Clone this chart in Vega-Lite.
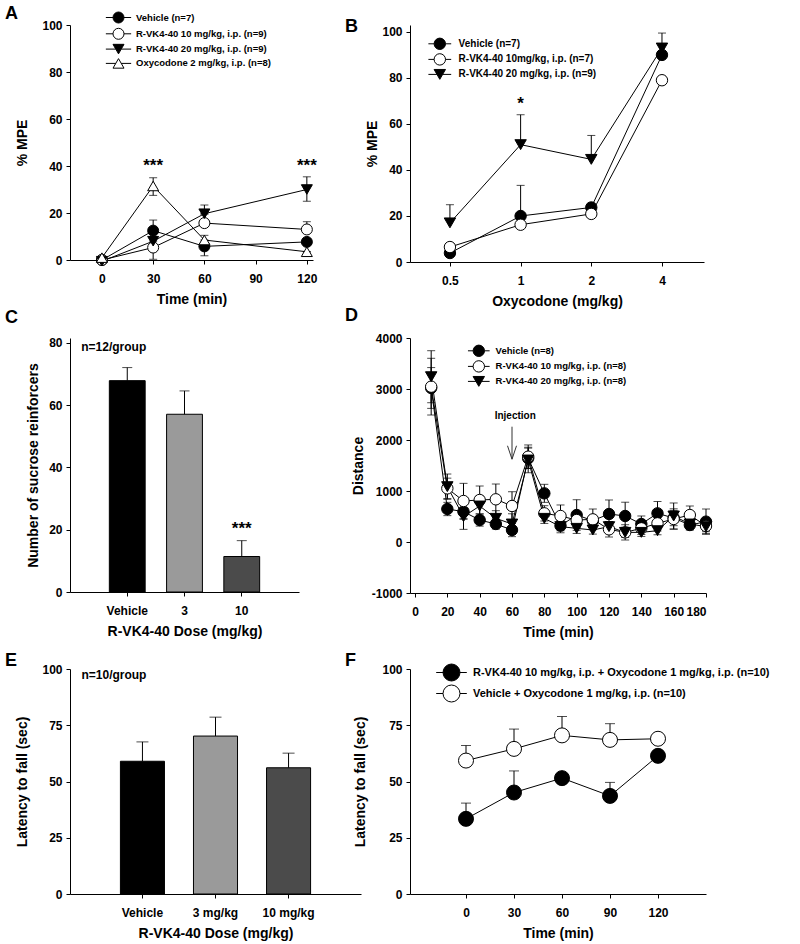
{
  "$schema": "https://vega.github.io/schema/vega-lite/v6.json",
  "padding": {"left": 5, "top": 4, "right": 5, "bottom": 2},
  "columns": 2,
  "align": "each",
  "bounds": "flush",
  "spacing": {"row": 76, "column": 49},
  "datasets": {
    "A": [
      {"t": 0, "y": 0, "lo": 0, "hi": 0, "s": "Vehicle (n=7)"},
      {"t": 30, "y": 12.5, "lo": 12.5, "hi": 17, "s": "Vehicle (n=7)"},
      {"t": 60, "y": 5.8, "lo": 1.8, "hi": 5.8, "s": "Vehicle (n=7)"},
      {"t": 120, "y": 7.7, "lo": 7.7, "hi": 8.5, "s": "Vehicle (n=7)"},
      {"t": 0, "y": 0, "lo": 0, "hi": 0, "s": "R-VK4-40 10 mg/kg, i.p. (n=9)"},
      {"t": 30, "y": 5.3, "lo": 0.3, "hi": 5.3, "s": "R-VK4-40 10 mg/kg, i.p. (n=9)"},
      {"t": 60, "y": 15.7, "lo": 15.7, "hi": 19.5, "s": "R-VK4-40 10 mg/kg, i.p. (n=9)"},
      {"t": 120, "y": 13, "lo": 13, "hi": 16.3, "s": "R-VK4-40 10 mg/kg, i.p. (n=9)"},
      {"t": 0, "y": -0.5, "lo": -0.5, "hi": -0.5, "s": "R-VK4-40 20 mg/kg, i.p. (n=9)"},
      {"t": 30, "y": 8, "lo": 8, "hi": 10, "s": "R-VK4-40 20 mg/kg, i.p. (n=9)"},
      {"t": 60, "y": 19.7, "lo": 19.7, "hi": 23.4, "s": "R-VK4-40 20 mg/kg, i.p. (n=9)"},
      {"t": 120, "y": 30, "lo": 25, "hi": 35.4, "s": "R-VK4-40 20 mg/kg, i.p. (n=9)"},
      {"t": 0, "y": 1, "lo": 1, "hi": 1, "s": "Oxycodone 2 mg/kg, i.p. (n=8)"},
      {"t": 30, "y": 31.5, "lo": 27.5, "hi": 35, "s": "Oxycodone 2 mg/kg, i.p. (n=8)"},
      {"t": 60, "y": 8.5, "lo": 8.5, "hi": 10.5, "s": "Oxycodone 2 mg/kg, i.p. (n=8)"},
      {"t": 120, "y": 3.5, "lo": 3.5, "hi": 3.5, "s": "Oxycodone 2 mg/kg, i.p. (n=8)"}
    ],
    "B": [
      {"d": 0.5, "y": 3.9, "lo": 3.9, "hi": 3.9, "s": "Vehicle (n=7)"},
      {"d": 1, "y": 20, "lo": 20, "hi": 33.3, "s": "Vehicle (n=7)"},
      {"d": 2, "y": 23.7, "lo": 23.7, "hi": 25.5, "s": "Vehicle (n=7)"},
      {"d": 4, "y": 90, "lo": 90, "hi": 90, "s": "Vehicle (n=7)"},
      {"d": 0.5, "y": 6.5, "lo": 6.5, "hi": 6.5, "s": "R-VK4-40 10mg/kg, i.p. (n=7)"},
      {"d": 1, "y": 16.2, "lo": 16.2, "hi": 16.2, "s": "R-VK4-40 10mg/kg, i.p. (n=7)"},
      {"d": 2, "y": 20.9, "lo": 20.9, "hi": 20.9, "s": "R-VK4-40 10mg/kg, i.p. (n=7)"},
      {"d": 4, "y": 79, "lo": 79, "hi": 79, "s": "R-VK4-40 10mg/kg, i.p. (n=7)"},
      {"d": 0.5, "y": 17, "lo": 17, "hi": 24.9, "s": "R-VK4-40 20 mg/kg, i.p. (n=9)"},
      {"d": 1, "y": 51, "lo": 51, "hi": 64, "s": "R-VK4-40 20 mg/kg, i.p. (n=9)"},
      {"d": 2, "y": 44.6, "lo": 44.6, "hi": 55, "s": "R-VK4-40 20 mg/kg, i.p. (n=9)"},
      {"d": 4, "y": 93, "lo": 93, "hi": 99.5, "s": "R-VK4-40 20 mg/kg, i.p. (n=9)"}
    ],
    "C": [
      {"dose": "Vehicle", "v": 67.9, "hi": 72.1},
      {"dose": "3", "v": 57.1, "hi": 64.6},
      {"dose": "10", "v": 11.4, "hi": 16.5}
    ],
    "D": [
      {"t": 10, "y": 3020, "lo": 2620, "hi": 3420, "s": "Vehicle (n=8)"},
      {"t": 20, "y": 647, "lo": 517, "hi": 777, "s": "Vehicle (n=8)"},
      {"t": 30, "y": 595, "lo": 445, "hi": 745, "s": "Vehicle (n=8)"},
      {"t": 40, "y": 431, "lo": 311, "hi": 551, "s": "Vehicle (n=8)"},
      {"t": 50, "y": 353, "lo": 253, "hi": 453, "s": "Vehicle (n=8)"},
      {"t": 60, "y": 235, "lo": 105, "hi": 365, "s": "Vehicle (n=8)"},
      {"t": 70, "y": 1641, "lo": 1441, "hi": 1841, "s": "Vehicle (n=8)"},
      {"t": 80, "y": 954, "lo": 777, "hi": 1131, "s": "Vehicle (n=8)"},
      {"t": 90, "y": 320, "lo": 220, "hi": 420, "s": "Vehicle (n=8)"},
      {"t": 100, "y": 529, "lo": 229, "hi": 829, "s": "Vehicle (n=8)"},
      {"t": 110, "y": 420, "lo": 320, "hi": 520, "s": "Vehicle (n=8)"},
      {"t": 120, "y": 549, "lo": 274, "hi": 824, "s": "Vehicle (n=8)"},
      {"t": 130, "y": 510, "lo": 240, "hi": 780, "s": "Vehicle (n=8)"},
      {"t": 140, "y": 353, "lo": 196, "hi": 510, "s": "Vehicle (n=8)"},
      {"t": 150, "y": 562, "lo": 330, "hi": 794, "s": "Vehicle (n=8)"},
      {"t": 160, "y": 470, "lo": 320, "hi": 620, "s": "Vehicle (n=8)"},
      {"t": 170, "y": 333, "lo": 233, "hi": 433, "s": "Vehicle (n=8)"},
      {"t": 180, "y": 399, "lo": 151, "hi": 647, "s": "Vehicle (n=8)"},
      {"t": 10, "y": 3046, "lo": 2490, "hi": 3602, "s": "R-VK4-40 10 mg/kg, i.p. (n=8)"},
      {"t": 20, "y": 1052, "lo": 852, "hi": 1252, "s": "R-VK4-40 10 mg/kg, i.p. (n=8)"},
      {"t": 30, "y": 804, "lo": 458, "hi": 1150, "s": "R-VK4-40 10 mg/kg, i.p. (n=8)"},
      {"t": 40, "y": 824, "lo": 550, "hi": 1098, "s": "R-VK4-40 10 mg/kg, i.p. (n=8)"},
      {"t": 50, "y": 837, "lo": 537, "hi": 1137, "s": "R-VK4-40 10 mg/kg, i.p. (n=8)"},
      {"t": 60, "y": 706, "lo": 426, "hi": 986, "s": "R-VK4-40 10 mg/kg, i.p. (n=8)"},
      {"t": 70, "y": 1673, "lo": 1443, "hi": 1903, "s": "R-VK4-40 10 mg/kg, i.p. (n=8)"},
      {"t": 80, "y": 562, "lo": 412, "hi": 712, "s": "R-VK4-40 10 mg/kg, i.p. (n=8)"},
      {"t": 90, "y": 510, "lo": 294, "hi": 726, "s": "R-VK4-40 10 mg/kg, i.p. (n=8)"},
      {"t": 100, "y": 431, "lo": 281, "hi": 581, "s": "R-VK4-40 10 mg/kg, i.p. (n=8)"},
      {"t": 110, "y": 444, "lo": 241, "hi": 647, "s": "R-VK4-40 10 mg/kg, i.p. (n=8)"},
      {"t": 120, "y": 248, "lo": 98, "hi": 398, "s": "R-VK4-40 10 mg/kg, i.p. (n=8)"},
      {"t": 130, "y": 189, "lo": 39, "hi": 339, "s": "R-VK4-40 10 mg/kg, i.p. (n=8)"},
      {"t": 140, "y": 268, "lo": 148, "hi": 388, "s": "R-VK4-40 10 mg/kg, i.p. (n=8)"},
      {"t": 150, "y": 366, "lo": 216, "hi": 516, "s": "R-VK4-40 10 mg/kg, i.p. (n=8)"},
      {"t": 160, "y": 451, "lo": 251, "hi": 651, "s": "R-VK4-40 10 mg/kg, i.p. (n=8)"},
      {"t": 170, "y": 529, "lo": 352, "hi": 706, "s": "R-VK4-40 10 mg/kg, i.p. (n=8)"},
      {"t": 180, "y": 314, "lo": 164, "hi": 464, "s": "R-VK4-40 10 mg/kg, i.p. (n=8)"},
      {"t": 10, "y": 3241, "lo": 2731, "hi": 3751, "s": "R-VK4-40 20 mg/kg, i.p. (n=8)"},
      {"t": 20, "y": 1085, "lo": 837, "hi": 1333, "s": "R-VK4-40 20 mg/kg, i.p. (n=8)"},
      {"t": 30, "y": 497, "lo": 248, "hi": 746, "s": "R-VK4-40 20 mg/kg, i.p. (n=8)"},
      {"t": 40, "y": 706, "lo": 506, "hi": 906, "s": "R-VK4-40 20 mg/kg, i.p. (n=8)"},
      {"t": 50, "y": 464, "lo": 314, "hi": 614, "s": "R-VK4-40 20 mg/kg, i.p. (n=8)"},
      {"t": 60, "y": 353, "lo": 153, "hi": 553, "s": "R-VK4-40 20 mg/kg, i.p. (n=8)"},
      {"t": 70, "y": 1608, "lo": 1358, "hi": 1858, "s": "R-VK4-40 20 mg/kg, i.p. (n=8)"},
      {"t": 80, "y": 464, "lo": 364, "hi": 564, "s": "R-VK4-40 20 mg/kg, i.p. (n=8)"},
      {"t": 90, "y": 301, "lo": 181, "hi": 421, "s": "R-VK4-40 20 mg/kg, i.p. (n=8)"},
      {"t": 100, "y": 268, "lo": 168, "hi": 368, "s": "R-VK4-40 20 mg/kg, i.p. (n=8)"},
      {"t": 110, "y": 235, "lo": 155, "hi": 315, "s": "R-VK4-40 20 mg/kg, i.p. (n=8)"},
      {"t": 120, "y": 301, "lo": 201, "hi": 401, "s": "R-VK4-40 20 mg/kg, i.p. (n=8)"},
      {"t": 130, "y": 189, "lo": 89, "hi": 289, "s": "R-VK4-40 20 mg/kg, i.p. (n=8)"},
      {"t": 140, "y": 189, "lo": 109, "hi": 269, "s": "R-VK4-40 20 mg/kg, i.p. (n=8)"},
      {"t": 150, "y": 222, "lo": 142, "hi": 302, "s": "R-VK4-40 20 mg/kg, i.p. (n=8)"},
      {"t": 160, "y": 510, "lo": 255, "hi": 765, "s": "R-VK4-40 20 mg/kg, i.p. (n=8)"},
      {"t": 170, "y": 353, "lo": 253, "hi": 453, "s": "R-VK4-40 20 mg/kg, i.p. (n=8)"},
      {"t": 180, "y": 301, "lo": 201, "hi": 401, "s": "R-VK4-40 20 mg/kg, i.p. (n=8)"}
    ],
    "E": [
      {"dose": "Vehicle", "v": 59, "hi": 67.6},
      {"dose": "3 mg/kg", "v": 70.2, "hi": 78.6},
      {"dose": "10 mg/kg", "v": 56.1, "hi": 62.6}
    ],
    "F": [
      {"t": 0, "y": 33.4, "hi": 40.4, "s": "R-VK4-40 10 mg/kg, i.p. + Oxycodone 1 mg/kg, i.p. (n=10)"},
      {"t": 30, "y": 45.1, "hi": 54.7, "s": "R-VK4-40 10 mg/kg, i.p. + Oxycodone 1 mg/kg, i.p. (n=10)"},
      {"t": 60, "y": 51.5, "hi": 52, "s": "R-VK4-40 10 mg/kg, i.p. + Oxycodone 1 mg/kg, i.p. (n=10)"},
      {"t": 90, "y": 43.6, "hi": 49.6, "s": "R-VK4-40 10 mg/kg, i.p. + Oxycodone 1 mg/kg, i.p. (n=10)"},
      {"t": 120, "y": 61.4, "hi": 62, "s": "R-VK4-40 10 mg/kg, i.p. + Oxycodone 1 mg/kg, i.p. (n=10)"},
      {"t": 0, "y": 59.3, "hi": 66, "s": "Vehicle + Oxycodone 1 mg/kg, i.p. (n=10)"},
      {"t": 30, "y": 64.5, "hi": 73.3, "s": "Vehicle + Oxycodone 1 mg/kg, i.p. (n=10)"},
      {"t": 60, "y": 70.5, "hi": 78.9, "s": "Vehicle + Oxycodone 1 mg/kg, i.p. (n=10)"},
      {"t": 90, "y": 68.5, "hi": 75.7, "s": "Vehicle + Oxycodone 1 mg/kg, i.p. (n=10)"},
      {"t": 120, "y": 69, "hi": 69.5, "s": "Vehicle + Oxycodone 1 mg/kg, i.p. (n=10)"}
    ]
  },
  "concat": [
    {
      "width": 243, "height": 235,
      "title": {"text": "A", "dy": 13},
      "data": {"name": "A"},
      "encoding": {"x": {"field": "t", "type": "quantitative", "scale": {"domain": [-18.7, 123.6], "nice": false, "zero": false}, "axis": {"values": [0, 30, 60, 90, 120], "title": "Time (min)"}}},
      "resolve": {"scale": {"shape": "independent", "fill": "independent", "stroke": "independent"}},
      "layer": [
        {"mark": {"type": "line", "color": "black", "strokeWidth": 1},
         "encoding": {"y": {"field": "y", "type": "quantitative", "scale": {"domain": [0, 100], "nice": false, "zero": false}, "axis": {"values": [0, 20, 40, 60, 80, 100], "title": "% MPE", "titlePadding": 12}}, "detail": {"field": "s"}}},
        {"mark": {"type": "rule", "color": "black", "strokeWidth": 1},
         "encoding": {"y": {"field": "lo", "type": "quantitative", "scale": {"domain": [0, 100], "nice": false, "zero": false}, "axis": {"values": [0, 20, 40, 60, 80, 100], "title": "% MPE", "titlePadding": 12}}, "y2": {"field": "hi"}}},
        {"mark": {"type": "tick", "orient": "horizontal", "color": "black", "size": 8, "thickness": 1},
         "encoding": {"y": {"field": "hi", "type": "quantitative", "scale": {"domain": [0, 100], "nice": false, "zero": false}, "axis": {"values": [0, 20, 40, 60, 80, 100], "title": "% MPE", "titlePadding": 12}}}},
        {"mark": {"type": "tick", "orient": "horizontal", "color": "black", "size": 8, "thickness": 1},
         "encoding": {"y": {"field": "lo", "type": "quantitative", "scale": {"domain": [0, 100], "nice": false, "zero": false}, "axis": {"values": [0, 20, 40, 60, 80, 100], "title": "% MPE", "titlePadding": 12}}}},
        {"mark": {"type": "point", "filled": true, "stroke": "black", "strokeWidth": 1, "opacity": 1, "size": 121},
         "encoding": {
           "y": {"field": "y", "type": "quantitative", "scale": {"domain": [0, 100], "nice": false, "zero": false}, "axis": {"values": [0, 20, 40, 60, 80, 100], "title": "% MPE", "titlePadding": 12}},
           "shape": {"field": "s", "type": "nominal", "scale": {"domain": ["Vehicle (n=7)", "R-VK4-40 10 mg/kg, i.p. (n=9)", "R-VK4-40 20 mg/kg, i.p. (n=9)", "Oxycodone 2 mg/kg, i.p. (n=8)"], "range": ["circle", "circle", "triangle-down", "triangle-up"]}, "legend": null},
           "fill": {"field": "s", "type": "nominal", "scale": {"domain": ["Vehicle (n=7)", "R-VK4-40 10 mg/kg, i.p. (n=9)", "R-VK4-40 20 mg/kg, i.p. (n=9)", "Oxycodone 2 mg/kg, i.p. (n=8)"], "range": ["black", "white", "black", "white"]}, "legend": null}
         }},
        {"transform": [{"filter": "false"}],
         "mark": {"type": "point", "filled": true, "opacity": 1},
         "encoding": {
           "y": {"field": "y", "type": "quantitative", "scale": {"domain": [0, 100], "nice": false, "zero": false}, "axis": {"values": [0, 20, 40, 60, 80, 100], "title": "% MPE", "titlePadding": 12}},
           "shape": {"field": "s", "type": "nominal", "scale": {"domain": ["Vehicle (n=7)", "R-VK4-40 10 mg/kg, i.p. (n=9)", "R-VK4-40 20 mg/kg, i.p. (n=9)", "Oxycodone 2 mg/kg, i.p. (n=8)"], "range": ["M-2.3,0L-1,0M1,0L2.3,0M1,0L0.924,0.383L0.707,0.707L0.383,0.924L0,1L-0.383,0.924L-0.707,0.707L-0.924,0.383L-1,0L-0.924,-0.383L-0.707,-0.707L-0.383,-0.924L0,-1L0.383,-0.924L0.707,-0.707L0.924,-0.383Z", "M-2.3,0L-1,0M1,0L2.3,0M1,0L0.924,0.383L0.707,0.707L0.383,0.924L0,1L-0.383,0.924L-0.707,0.707L-0.924,0.383L-1,0L-0.924,-0.383L-0.707,-0.707L-0.383,-0.924L0,-1L0.383,-0.924L0.707,-0.707L0.924,-0.383Z", "M-2.3,0L-0.5,0M0.5,0L2.3,0M0,0.866L-1,-0.866L1,-0.866Z", "M-2.3,0L-0.5,0M0.5,0L2.3,0M0,-0.866L-1,0.866L1,0.866Z"]},
             "legend": {"title": null, "orient": "none", "direction": "vertical", "legendX": 42.5, "legendY": -13.5, "labelFontSize": 9.5, "symbolSize": 121, "rowPadding": 0.3, "labelOffset": 11.5, "symbolStrokeWidth": 1, "labelLimit": 400}},
           "fill": {"field": "s", "type": "nominal", "scale": {"domain": ["Vehicle (n=7)", "R-VK4-40 10 mg/kg, i.p. (n=9)", "R-VK4-40 20 mg/kg, i.p. (n=9)", "Oxycodone 2 mg/kg, i.p. (n=8)"], "range": ["black", "white", "black", "white"]},
             "legend": {"title": null, "orient": "none", "direction": "vertical", "legendX": 42.5, "legendY": -13.5, "labelFontSize": 9.5, "symbolSize": 121, "rowPadding": 0.3, "labelOffset": 11.5, "symbolStrokeWidth": 1, "labelLimit": 400}},
           "stroke": {"field": "s", "type": "nominal", "scale": {"domain": ["Vehicle (n=7)", "R-VK4-40 10 mg/kg, i.p. (n=9)", "R-VK4-40 20 mg/kg, i.p. (n=9)", "Oxycodone 2 mg/kg, i.p. (n=8)"], "range": ["black", "black", "black", "black"]},
             "legend": {"title": null, "orient": "none", "direction": "vertical", "legendX": 42.5, "legendY": -13.5, "labelFontSize": 9.5, "symbolSize": 121, "rowPadding": 0.3, "labelOffset": 11.5, "symbolStrokeWidth": 1, "labelLimit": 400}}
         }},
        {"data": {"values": [{"t": 30, "y": 40, "note": "***"}, {"t": 120, "y": 40, "note": "***"}]},
         "mark": {"type": "text", "fontSize": 17, "fontWeight": "bold", "baseline": "middle"},
         "encoding": {"y": {"field": "y", "type": "quantitative", "scale": {"domain": [0, 100], "nice": false, "zero": false}, "axis": {"values": [0, 20, 40, 60, 80, 100], "title": "% MPE", "titlePadding": 12}}, "text": {"field": "note"}}}
      ]
    },
    {
      "width": 294, "height": 237,
      "title": {"text": "B", "dy": 13},
      "data": {"name": "B"},
      "encoding": {"x": {"field": "d", "type": "quantitative", "scale": {"type": "log", "base": 2, "domain": [0.338, 6.04], "nice": false}, "axis": {"values": [0.5, 1, 2, 4], "format": "~g", "title": "Oxycodone (mg/kg)"}}},
      "resolve": {"scale": {"shape": "independent", "fill": "independent", "stroke": "independent"}},
      "layer": [
        {"mark": {"type": "line", "color": "black", "strokeWidth": 1},
         "encoding": {"y": {"field": "y", "type": "quantitative", "scale": {"domain": [0, 103], "nice": false, "zero": false}, "axis": {"values": [0, 20, 40, 60, 80, 100], "title": "% MPE", "titlePadding": 2}}, "detail": {"field": "s"}}},
        {"mark": {"type": "rule", "color": "black", "strokeWidth": 1},
         "encoding": {"y": {"field": "lo", "type": "quantitative", "scale": {"domain": [0, 103], "nice": false, "zero": false}, "axis": {"values": [0, 20, 40, 60, 80, 100], "title": "% MPE", "titlePadding": 2}}, "y2": {"field": "hi"}}},
        {"mark": {"type": "tick", "orient": "horizontal", "color": "black", "size": 8, "thickness": 1},
         "encoding": {"y": {"field": "hi", "type": "quantitative", "scale": {"domain": [0, 103], "nice": false, "zero": false}, "axis": {"values": [0, 20, 40, 60, 80, 100], "title": "% MPE", "titlePadding": 2}}}},
        {"mark": {"type": "point", "filled": true, "stroke": "black", "strokeWidth": 1, "opacity": 1, "size": 130},
         "encoding": {
           "y": {"field": "y", "type": "quantitative", "scale": {"domain": [0, 103], "nice": false, "zero": false}, "axis": {"values": [0, 20, 40, 60, 80, 100], "title": "% MPE", "titlePadding": 2}},
           "shape": {"field": "s", "type": "nominal", "scale": {"domain": ["Vehicle (n=7)", "R-VK4-40 10mg/kg, i.p. (n=7)", "R-VK4-40 20 mg/kg, i.p. (n=9)"], "range": ["circle", "circle", "triangle-down"]}, "legend": null},
           "fill": {"field": "s", "type": "nominal", "scale": {"domain": ["Vehicle (n=7)", "R-VK4-40 10mg/kg, i.p. (n=7)", "R-VK4-40 20 mg/kg, i.p. (n=9)"], "range": ["black", "white", "black"]}, "legend": null}
         }},
        {"transform": [{"filter": "false"}],
         "mark": {"type": "point", "filled": true, "opacity": 1},
         "encoding": {
           "y": {"field": "y", "type": "quantitative", "scale": {"domain": [0, 103], "nice": false, "zero": false}, "axis": {"values": [0, 20, 40, 60, 80, 100], "title": "% MPE", "titlePadding": 2}},
           "shape": {"field": "s", "type": "nominal", "scale": {"domain": ["Vehicle (n=7)", "R-VK4-40 10mg/kg, i.p. (n=7)", "R-VK4-40 20 mg/kg, i.p. (n=9)"], "range": ["M-2,0L-1,0M1,0L2,0M1,0L0.924,0.383L0.707,0.707L0.383,0.924L0,1L-0.383,0.924L-0.707,0.707L-0.924,0.383L-1,0L-0.924,-0.383L-0.707,-0.707L-0.383,-0.924L0,-1L0.383,-0.924L0.707,-0.707L0.924,-0.383Z", "M-2,0L-1,0M1,0L2,0M1,0L0.924,0.383L0.707,0.707L0.383,0.924L0,1L-0.383,0.924L-0.707,0.707L-0.924,0.383L-1,0L-0.924,-0.383L-0.707,-0.707L-0.383,-0.924L0,-1L0.383,-0.924L0.707,-0.707L0.924,-0.383Z", "M-2,0L-0.5,0M0.5,0L2,0M0,0.866L-1,-0.866L1,-0.866Z"]},
             "legend": {"title": null, "orient": "none", "direction": "vertical", "legendX": 23.3, "legendY": 12.3, "labelFontSize": 10, "symbolSize": 130, "rowPadding": -1.4, "labelOffset": 12.3, "symbolStrokeWidth": 1, "labelLimit": 400}},
           "fill": {"field": "s", "type": "nominal", "scale": {"domain": ["Vehicle (n=7)", "R-VK4-40 10mg/kg, i.p. (n=7)", "R-VK4-40 20 mg/kg, i.p. (n=9)"], "range": ["black", "white", "black"]},
             "legend": {"title": null, "orient": "none", "direction": "vertical", "legendX": 23.3, "legendY": 12.3, "labelFontSize": 10, "symbolSize": 130, "rowPadding": -1.4, "labelOffset": 12.3, "symbolStrokeWidth": 1, "labelLimit": 400}},
           "stroke": {"field": "s", "type": "nominal", "scale": {"domain": ["Vehicle (n=7)", "R-VK4-40 10mg/kg, i.p. (n=7)", "R-VK4-40 20 mg/kg, i.p. (n=9)"], "range": ["black", "black", "black"]},
             "legend": {"title": null, "orient": "none", "direction": "vertical", "legendX": 23.3, "legendY": 12.3, "labelFontSize": 10, "symbolSize": 130, "rowPadding": -1.4, "labelOffset": 12.3, "symbolStrokeWidth": 1, "labelLimit": 400}}
         }},
        {"data": {"values": [{"d": 1, "y": 68.5, "note": "*"}]},
         "mark": {"type": "text", "fontSize": 17, "fontWeight": "bold", "baseline": "middle"},
         "encoding": {"y": {"field": "y", "type": "quantitative", "scale": {"domain": [0, 103], "nice": false, "zero": false}, "axis": {"values": [0, 20, 40, 60, 80, 100], "title": "% MPE", "titlePadding": 2}}, "text": {"field": "note"}}}
      ]
    },
    {
      "width": 229, "height": 254,
      "title": {"text": "C", "dy": -8},
      "data": {"name": "C"},
      "encoding": {"x": {"field": "dose", "type": "nominal", "sort": null, "scale": {"type": "band", "domain": ["Vehicle", "3", "10"], "paddingInner": 0.374, "paddingOuter": 0.687}, "axis": {"title": "R-VK4-40 Dose (mg/kg)", "labelAngle": 0}}},
      "layer": [
        {"mark": {"type": "bar", "stroke": "black", "strokeWidth": 1},
         "encoding": {
           "y": {"field": "v", "type": "quantitative", "scale": {"domain": [0, 81.6], "nice": false, "zero": false}, "axis": {"values": [0, 20, 40, 60, 80], "title": "Number of sucrose reinforcers", "titlePadding": 8}},
           "fill": {"field": "dose", "type": "nominal", "scale": {"domain": ["Vehicle", "3", "10"], "range": ["#000000", "#9a9a9a", "#4b4b4b"]}, "legend": null}}},
        {"mark": {"type": "rule", "color": "black", "strokeWidth": 1},
         "encoding": {"y": {"field": "v", "type": "quantitative", "scale": {"domain": [0, 81.6], "nice": false, "zero": false}, "axis": {"values": [0, 20, 40, 60, 80], "title": "Number of sucrose reinforcers", "titlePadding": 8}}, "y2": {"field": "hi"}}},
        {"mark": {"type": "tick", "orient": "horizontal", "color": "black", "size": 10, "thickness": 1},
         "encoding": {"y": {"field": "hi", "type": "quantitative", "scale": {"domain": [0, 81.6], "nice": false, "zero": false}, "axis": {"values": [0, 20, 40, 60, 80], "title": "Number of sucrose reinforcers", "titlePadding": 8}}}},
        {"data": {"values": [{"dose": "10", "y": 20.3, "note": "***"}]},
         "mark": {"type": "text", "fontSize": 17, "fontWeight": "bold", "baseline": "middle"},
         "encoding": {"y": {"field": "y", "type": "quantitative", "scale": {"domain": [0, 81.6], "nice": false, "zero": false}, "axis": {"values": [0, 20, 40, 60, 80], "title": "Number of sucrose reinforcers", "titlePadding": 8}}, "text": {"field": "note"}}},
        {"data": {"values": [{"dose": "Vehicle", "y": 78.7, "note": "n=12/group"}]},
         "mark": {"type": "text", "fontSize": 12, "fontWeight": "bold", "baseline": "middle", "align": "left", "dx": -46},
         "encoding": {"y": {"field": "y", "type": "quantitative", "scale": {"domain": [0, 81.6], "nice": false, "zero": false}, "axis": {"values": [0, 20, 40, 60, 80], "title": "Number of sucrose reinforcers", "titlePadding": 8}}, "text": {"field": "note"}}}
      ]
    },
    {
      "width": 296, "height": 255,
      "title": {"text": "D", "dy": -5},
      "data": {"name": "D"},
      "encoding": {"x": {"field": "t", "type": "quantitative", "scale": {"domain": [-3.1, 180], "nice": false, "zero": false}, "axis": {"values": [0, 20, 40, 60, 80, 100, 120, 140, 160, 180], "title": "Time (min)"}}},
      "resolve": {"scale": {"shape": "independent", "fill": "independent", "stroke": "independent"}},
      "layer": [
        {"mark": {"type": "line", "color": "black", "strokeWidth": 1},
         "encoding": {"y": {"field": "y", "type": "quantitative", "scale": {"domain": [-1000, 4000], "nice": false, "zero": false}, "axis": {"values": [-1000, 0, 1000, 2000, 3000, 4000], "labelExpr": "datum.value + ''", "title": "Distance", "titlePadding": 6}}, "detail": {"field": "s"}}},
        {"mark": {"type": "rule", "color": "black", "strokeWidth": 1},
         "encoding": {"y": {"field": "lo", "type": "quantitative", "scale": {"domain": [-1000, 4000], "nice": false, "zero": false}, "axis": {"values": [-1000, 0, 1000, 2000, 3000, 4000], "labelExpr": "datum.value + ''", "title": "Distance", "titlePadding": 6}}, "y2": {"field": "hi"}}},
        {"mark": {"type": "tick", "orient": "horizontal", "color": "black", "size": 8, "thickness": 1},
         "encoding": {"y": {"field": "hi", "type": "quantitative", "scale": {"domain": [-1000, 4000], "nice": false, "zero": false}, "axis": {"values": [-1000, 0, 1000, 2000, 3000, 4000], "labelExpr": "datum.value + ''", "title": "Distance", "titlePadding": 6}}}},
        {"mark": {"type": "tick", "orient": "horizontal", "color": "black", "size": 8, "thickness": 1},
         "encoding": {"y": {"field": "lo", "type": "quantitative", "scale": {"domain": [-1000, 4000], "nice": false, "zero": false}, "axis": {"values": [-1000, 0, 1000, 2000, 3000, 4000], "labelExpr": "datum.value + ''", "title": "Distance", "titlePadding": 6}}}},
        {"mark": {"type": "point", "filled": true, "stroke": "black", "strokeWidth": 1, "opacity": 1, "size": 130},
         "encoding": {
           "y": {"field": "y", "type": "quantitative", "scale": {"domain": [-1000, 4000], "nice": false, "zero": false}, "axis": {"values": [-1000, 0, 1000, 2000, 3000, 4000], "labelExpr": "datum.value + ''", "title": "Distance", "titlePadding": 6}},
           "shape": {"field": "s", "type": "nominal", "scale": {"domain": ["Vehicle (n=8)", "R-VK4-40 10 mg/kg, i.p. (n=8)", "R-VK4-40 20 mg/kg, i.p. (n=8)"], "range": ["circle", "circle", "triangle-down"]}, "legend": null},
           "fill": {"field": "s", "type": "nominal", "scale": {"domain": ["Vehicle (n=8)", "R-VK4-40 10 mg/kg, i.p. (n=8)", "R-VK4-40 20 mg/kg, i.p. (n=8)"], "range": ["black", "white", "black"]}, "legend": null}
         }},
        {"transform": [{"filter": "false"}],
         "mark": {"type": "point", "filled": true, "opacity": 1},
         "encoding": {
           "y": {"field": "y", "type": "quantitative", "scale": {"domain": [-1000, 4000], "nice": false, "zero": false}, "axis": {"values": [-1000, 0, 1000, 2000, 3000, 4000], "labelExpr": "datum.value + ''", "title": "Distance", "titlePadding": 6}},
           "shape": {"field": "s", "type": "nominal", "scale": {"domain": ["Vehicle (n=8)", "R-VK4-40 10 mg/kg, i.p. (n=8)", "R-VK4-40 20 mg/kg, i.p. (n=8)"], "range": ["M-1.9,0L-1,0M1,0L1.9,0M1,0L0.924,0.383L0.707,0.707L0.383,0.924L0,1L-0.383,0.924L-0.707,0.707L-0.924,0.383L-1,0L-0.924,-0.383L-0.707,-0.707L-0.383,-0.924L0,-1L0.383,-0.924L0.707,-0.707L0.924,-0.383Z", "M-1.9,0L-1,0M1,0L1.9,0M1,0L0.924,0.383L0.707,0.707L0.383,0.924L0,1L-0.383,0.924L-0.707,0.707L-0.924,0.383L-1,0L-0.924,-0.383L-0.707,-0.707L-0.383,-0.924L0,-1L0.383,-0.924L0.707,-0.707L0.924,-0.383Z", "M-1.9,0L-0.5,0M0.5,0L1.9,0M0,0.866L-1,-0.866L1,-0.866Z"]},
             "legend": {"title": null, "orient": "none", "direction": "vertical", "legendX": 62.3, "legendY": 6.3, "labelFontSize": 9.5, "symbolSize": 130, "rowPadding": -1.4, "labelOffset": 10.3, "symbolStrokeWidth": 1, "labelLimit": 400}},
           "fill": {"field": "s", "type": "nominal", "scale": {"domain": ["Vehicle (n=8)", "R-VK4-40 10 mg/kg, i.p. (n=8)", "R-VK4-40 20 mg/kg, i.p. (n=8)"], "range": ["black", "white", "black"]},
             "legend": {"title": null, "orient": "none", "direction": "vertical", "legendX": 62.3, "legendY": 6.3, "labelFontSize": 9.5, "symbolSize": 130, "rowPadding": -1.4, "labelOffset": 10.3, "symbolStrokeWidth": 1, "labelLimit": 400}},
           "stroke": {"field": "s", "type": "nominal", "scale": {"domain": ["Vehicle (n=8)", "R-VK4-40 10 mg/kg, i.p. (n=8)", "R-VK4-40 20 mg/kg, i.p. (n=8)"], "range": ["black", "black", "black"]},
             "legend": {"title": null, "orient": "none", "direction": "vertical", "legendX": 62.3, "legendY": 6.3, "labelFontSize": 9.5, "symbolSize": 130, "rowPadding": -1.4, "labelOffset": 10.3, "symbolStrokeWidth": 1, "labelLimit": 400}}
         }},
        {"data": {"values": [{"t": 62, "y": 2476, "note": "Injection"}]},
         "mark": {"type": "text", "fontSize": 10, "fontWeight": "bold", "baseline": "middle"},
         "encoding": {"y": {"field": "y", "type": "quantitative", "scale": {"domain": [-1000, 4000], "nice": false, "zero": false}, "axis": {"values": [-1000, 0, 1000, 2000, 3000, 4000], "labelExpr": "datum.value + ''", "title": "Distance", "titlePadding": 6}}, "text": {"field": "note"}}},
        {"data": {"values": [{"t": 60, "y": 2261, "y2": 1630}]},
         "mark": {"type": "rule", "color": "#333", "strokeWidth": 1},
         "encoding": {"y": {"field": "y", "type": "quantitative", "scale": {"domain": [-1000, 4000], "nice": false, "zero": false}, "axis": {"values": [-1000, 0, 1000, 2000, 3000, 4000], "labelExpr": "datum.value + ''", "title": "Distance", "titlePadding": 6}}, "y2": {"field": "y2"}}},
        {"data": {"values": [{"t": 60, "y": 1622}]},
         "mark": {"type": "point", "shape": "M-0.5,-1.5L0,0L0.5,-1.5", "filled": false, "stroke": "#333", "strokeWidth": 1, "opacity": 1, "size": 324},
         "encoding": {"y": {"field": "y", "type": "quantitative", "scale": {"domain": [-1000, 4000], "nice": false, "zero": false}, "axis": {"values": [-1000, 0, 1000, 2000, 3000, 4000], "labelExpr": "datum.value + ''", "title": "Distance", "titlePadding": 6}}}}
      ]
    },
    {
      "width": 291, "height": 225,
      "title": {"text": "E", "dy": 9},
      "data": {"name": "E"},
      "encoding": {"x": {"field": "dose", "type": "nominal", "sort": null, "scale": {"type": "band", "domain": ["Vehicle", "3 mg/kg", "10 mg/kg"], "paddingInner": 0.397, "paddingOuter": 0.69}, "axis": {"title": "R-VK4-40 Dose (mg/kg)", "labelAngle": 0}}},
      "layer": [
        {"mark": {"type": "bar", "stroke": "black", "strokeWidth": 1},
         "encoding": {
           "y": {"field": "v", "type": "quantitative", "scale": {"domain": [0, 100], "nice": false, "zero": false}, "axis": {"values": [0, 25, 50, 75, 100], "title": "Latency to fall (sec)", "titlePadding": 12}},
           "fill": {"field": "dose", "type": "nominal", "scale": {"domain": ["Vehicle", "3 mg/kg", "10 mg/kg"], "range": ["#000000", "#9a9a9a", "#4b4b4b"]}, "legend": null}}},
        {"mark": {"type": "rule", "color": "black", "strokeWidth": 1},
         "encoding": {"y": {"field": "v", "type": "quantitative", "scale": {"domain": [0, 100], "nice": false, "zero": false}, "axis": {"values": [0, 25, 50, 75, 100], "title": "Latency to fall (sec)", "titlePadding": 12}}, "y2": {"field": "hi"}}},
        {"mark": {"type": "tick", "orient": "horizontal", "color": "black", "size": 12, "thickness": 1},
         "encoding": {"y": {"field": "hi", "type": "quantitative", "scale": {"domain": [0, 100], "nice": false, "zero": false}, "axis": {"values": [0, 25, 50, 75, 100], "title": "Latency to fall (sec)", "titlePadding": 12}}}},
        {"data": {"values": [{"dose": "Vehicle", "y": 97.5, "note": "n=10/group"}]},
         "mark": {"type": "text", "fontSize": 12, "fontWeight": "bold", "baseline": "middle", "align": "left", "dx": -61},
         "encoding": {"y": {"field": "y", "type": "quantitative", "scale": {"domain": [0, 100], "nice": false, "zero": false}, "axis": {"values": [0, 25, 50, 75, 100], "title": "Latency to fall (sec)", "titlePadding": 12}}, "text": {"field": "note"}}}
      ]
    },
    {
      "width": 296, "height": 225,
      "title": {"text": "F", "dy": 9},
      "data": {"name": "F"},
      "encoding": {"x": {"field": "t", "type": "quantitative", "scale": {"domain": [-35, 150], "nice": false, "zero": false}, "axis": {"values": [0, 30, 60, 90, 120], "title": "Time (min)"}}},
      "resolve": {"scale": {"shape": "independent", "fill": "independent", "stroke": "independent"}},
      "layer": [
        {"mark": {"type": "line", "color": "black", "strokeWidth": 1},
         "encoding": {"y": {"field": "y", "type": "quantitative", "scale": {"domain": [0, 100], "nice": false, "zero": false}, "axis": {"values": [0, 25, 50, 75, 100], "title": "Latency to fall (sec)", "titlePadding": 14}}, "detail": {"field": "s"}}},
        {"mark": {"type": "rule", "color": "black", "strokeWidth": 1},
         "encoding": {"y": {"field": "y", "type": "quantitative", "scale": {"domain": [0, 100], "nice": false, "zero": false}, "axis": {"values": [0, 25, 50, 75, 100], "title": "Latency to fall (sec)", "titlePadding": 14}}, "y2": {"field": "hi"}}},
        {"mark": {"type": "tick", "orient": "horizontal", "color": "black", "size": 10, "thickness": 1},
         "encoding": {"y": {"field": "hi", "type": "quantitative", "scale": {"domain": [0, 100], "nice": false, "zero": false}, "axis": {"values": [0, 25, 50, 75, 100], "title": "Latency to fall (sec)", "titlePadding": 14}}}},
        {"mark": {"type": "point", "filled": true, "stroke": "black", "strokeWidth": 1, "opacity": 1, "size": 225},
         "encoding": {
           "y": {"field": "y", "type": "quantitative", "scale": {"domain": [0, 100], "nice": false, "zero": false}, "axis": {"values": [0, 25, 50, 75, 100], "title": "Latency to fall (sec)", "titlePadding": 14}},
           "shape": {"field": "s", "type": "nominal", "scale": {"domain": ["R-VK4-40 10 mg/kg, i.p. + Oxycodone 1 mg/kg, i.p. (n=10)", "Vehicle + Oxycodone 1 mg/kg, i.p. (n=10)"], "range": ["circle", "circle"]}, "legend": null},
           "fill": {"field": "s", "type": "nominal", "scale": {"domain": ["R-VK4-40 10 mg/kg, i.p. + Oxycodone 1 mg/kg, i.p. (n=10)", "Vehicle + Oxycodone 1 mg/kg, i.p. (n=10)"], "range": ["black", "white"]}, "legend": null}
         }},
        {"transform": [{"filter": "false"}],
         "mark": {"type": "point", "filled": true, "opacity": 1},
         "encoding": {
           "y": {"field": "y", "type": "quantitative", "scale": {"domain": [0, 100], "nice": false, "zero": false}, "axis": {"values": [0, 25, 50, 75, 100], "title": "Latency to fall (sec)", "titlePadding": 14}},
           "shape": {"field": "s", "type": "nominal", "scale": {"domain": ["R-VK4-40 10 mg/kg, i.p. + Oxycodone 1 mg/kg, i.p. (n=10)", "Vehicle + Oxycodone 1 mg/kg, i.p. (n=10)"], "range": ["M-1.8,0L-1,0M1,0L1.8,0M1,0L0.924,0.383L0.707,0.707L0.383,0.924L0,1L-0.383,0.924L-0.707,0.707L-0.924,0.383L-1,0L-0.924,-0.383L-0.707,-0.707L-0.383,-0.924L0,-1L0.383,-0.924L0.707,-0.707L0.924,-0.383Z", "M-1.8,0L-1,0M1,0L1.8,0M1,0L0.924,0.383L0.707,0.707L0.383,0.924L0,1L-0.383,0.924L-0.707,0.707L-0.924,0.383L-1,0L-0.924,-0.383L-0.707,-0.707L-0.383,-0.924L0,-1L0.383,-0.924L0.707,-0.707L0.924,-0.383Z"]},
             "legend": {"title": null, "orient": "none", "direction": "vertical", "legendX": 32.5, "legendY": -5.5, "labelFontSize": 11, "symbolSize": 289, "rowPadding": -1, "labelOffset": 12.5, "symbolStrokeWidth": 1, "labelLimit": 400}},
           "fill": {"field": "s", "type": "nominal", "scale": {"domain": ["R-VK4-40 10 mg/kg, i.p. + Oxycodone 1 mg/kg, i.p. (n=10)", "Vehicle + Oxycodone 1 mg/kg, i.p. (n=10)"], "range": ["black", "white"]},
             "legend": {"title": null, "orient": "none", "direction": "vertical", "legendX": 32.5, "legendY": -5.5, "labelFontSize": 11, "symbolSize": 289, "rowPadding": -1, "labelOffset": 12.5, "symbolStrokeWidth": 1, "labelLimit": 400}},
           "stroke": {"field": "s", "type": "nominal", "scale": {"domain": ["R-VK4-40 10 mg/kg, i.p. + Oxycodone 1 mg/kg, i.p. (n=10)", "Vehicle + Oxycodone 1 mg/kg, i.p. (n=10)"], "range": ["black", "black"]},
             "legend": {"title": null, "orient": "none", "direction": "vertical", "legendX": 32.5, "legendY": -5.5, "labelFontSize": 11, "symbolSize": 289, "rowPadding": -1, "labelOffset": 12.5, "symbolStrokeWidth": 1, "labelLimit": 400}}
         }}
      ]
    }
  ],
  "resolve": {
    "scale": {"shape": "independent", "fill": "independent", "stroke": "independent", "color": "independent"},
    "legend": {"shape": "independent", "fill": "independent", "stroke": "independent", "color": "independent"}
  },
  "config": {
    "view": {"stroke": null},
    "font": "Liberation Sans",
    "axis": {"domainColor": "#000", "tickColor": "#000", "labelColor": "#000", "titleColor": "#000", "labelFont": "Liberation Sans", "titleFont": "Liberation Sans", "labelFontWeight": "bold", "titleFontWeight": "bold", "labelFontSize": 12, "titleFontSize": 14, "grid": false, "tickSize": 4, "domainWidth": 1, "tickWidth": 1},
    "axisX": {"labelPadding": 9, "titlePadding": 8},
    "axisY": {"labelPadding": 4},
    "legend": {"labelFont": "Liberation Sans", "labelFontWeight": "bold", "labelColor": "#000", "symbolStrokeColor": "#000", "symbolStrokeWidth": 1},
    "title": {"font": "Liberation Sans", "fontSize": 18, "fontWeight": "bold", "anchor": "start", "frame": "group", "color": "#000", "dx": -65, "offset": 2},
    "text": {"font": "Liberation Sans", "fontWeight": "bold", "color": "#000"}
  }
}
